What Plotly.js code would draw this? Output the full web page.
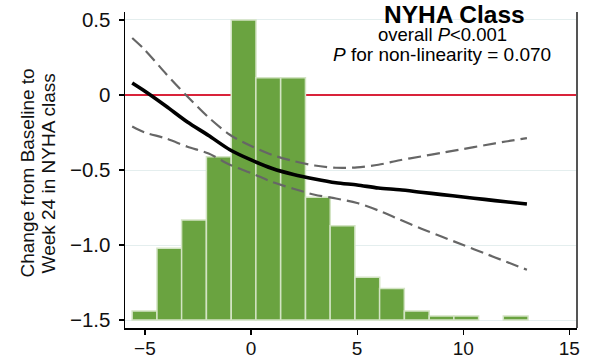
<!DOCTYPE html>
<html>
<head>
<meta charset="utf-8">
<script src="https://cdn.plot.ly/plotly-3.0.1.min.js"></script>
<style>html,body{margin:0;padding:0;background:#fff;}#chart{width:594px;height:360px;}</style>
</head>
<body>
<div id="chart"></div>
<script>
// Histogram of the exposure distribution (bin centres, bar heights above the -1.5 baseline)
const binCenters = [-5.02, -3.85, -2.69, -1.52, -0.35, 0.81, 1.98, 3.15, 4.31, 5.48, 6.64, 7.81, 8.98, 10.14, 11.31, 12.47];
const binHeights = [0.06, 0.478, 0.667, 1.089, 2.0, 1.615, 1.615, 0.818, 0.629, 0.285, 0.211, 0.06, 0.027, 0.027, null, 0.027];

// Restricted cubic spline estimate and 95% CI
const curveX   = [-5.6, -5, -4, -3, -2, -1, 0, 1, 2, 3, 4, 5, 6, 7, 8, 9, 10, 11, 12, 13];
const estimate = [0.08, 0.025, -0.075, -0.18, -0.27, -0.365, -0.433, -0.49, -0.53, -0.56, -0.585, -0.60, -0.62, -0.632, -0.648, -0.664, -0.68, -0.696, -0.712, -0.727];
const upperCI  = [0.38, 0.30, 0.14, -0.01, -0.15, -0.265, -0.34, -0.40, -0.44, -0.47, -0.485, -0.483, -0.465, -0.435, -0.41, -0.385, -0.36, -0.335, -0.31, -0.288];
const lowerCI  = [-0.21, -0.25, -0.29, -0.345, -0.39, -0.465, -0.52, -0.58, -0.625, -0.665, -0.69, -0.72, -0.77, -0.83, -0.89, -0.945, -1.0, -1.055, -1.11, -1.165];

const xTicks = [-5, 0, 5, 10, 15];
const xTickText = ['\u22125', '0', '5', '10', '15'];
const yTicks = [-1.5, -1.0, -0.5, 0, 0.5];
const yTickText = ['\u22121.5', '\u22121.0', '\u22120.5', '0', '0.5'];

const FONT = 'Liberation Sans, Arial, sans-serif';

const traces = [
  {
    type: 'bar', x: binCenters, y: binHeights, base: -1.5, width: 1.166,
    marker: {color: '#6aa340', line: {color: '#d3e4c4', width: 1.5}},
    hoverinfo: 'skip', showlegend: false
  },
  {
    type: 'scatter', mode: 'lines', x: curveX, y: upperCI,
    line: {color: '#666666', width: 2.2, dash: '13px,6px', shape: 'spline', smoothing: 0.8},
    showlegend: false
  },
  {
    type: 'scatter', mode: 'lines', x: curveX, y: lowerCI,
    line: {color: '#666666', width: 2.2, dash: '13px,6px', shape: 'spline', smoothing: 0.8},
    showlegend: false
  },
  {
    type: 'scatter', mode: 'lines', x: curveX, y: estimate,
    line: {color: '#000000', width: 3.6, shape: 'spline', smoothing: 0.8},
    showlegend: false
  }
];

const layout = {
  width: 594, height: 360,
  margin: {l: 125, r: 17, t: 12, b: 32, pad: 0},
  paper_bgcolor: '#ffffff', plot_bgcolor: '#ffffff',
  font: {family: FONT, color: '#111111'},
  bargap: 0,
  xaxis: {
    range: [-5.94, 15.36], tickvals: xTicks, ticktext: xTickText,
    showline: true, linecolor: '#000000', linewidth: 1.5,
    ticks: 'outside', ticklen: 5, tickcolor: '#000000', tickwidth: 1.2,
    showgrid: false, zeroline: false,
    tickfont: {size: 19, family: FONT, color: '#111111'},
    ticklabelstandoff: -2
  },
  yaxis: {
    range: [-1.553, 0.553], tickvals: yTicks, ticktext: yTickText,
    showline: true, linecolor: '#000000', linewidth: 1.5,
    ticks: 'outside', ticklen: 5, tickcolor: '#000000', tickwidth: 1.2,
    showgrid: true, gridcolor: '#e4eeee', gridwidth: 1,
    zeroline: true, zerolinecolor: '#d9233a', zerolinewidth: 1.5,
    tickfont: {size: 20.5, family: FONT, color: '#111111'},
    ticklabelstandoff: 4
  },
  shapes: [
    {type: 'line', xref: 'paper', yref: 'paper', x0: 1, x1: 1, y0: 0, y1: 1,
     line: {color: '#555555', width: 2}}
  ],
  annotations: [
    {xref: 'paper', yref: 'paper', x: -0.2168, y: 0.489, xanchor: 'center', yanchor: 'middle',
     text: 'Change from Baseline to', textangle: -90, showarrow: false,
     font: {size: 19, family: FONT, color: '#111111'}},
    {xref: 'paper', yref: 'paper', x: -0.1704, y: 0.489, xanchor: 'center', yanchor: 'middle',
     text: 'Week 24 in NYHA class', textangle: -90, showarrow: false,
     font: {size: 19, family: FONT, color: '#111111'}},
    {xref: 'paper', yref: 'paper', x: 0.728, y: 0.993, xanchor: 'center', yanchor: 'middle',
     text: '<b>NYHA Class</b>', showarrow: false,
     font: {size: 24.5, family: FONT, color: '#000000'}},
    {xref: 'paper', yref: 'paper', x: 0.702, y: 0.930, xanchor: 'center', yanchor: 'middle',
     text: 'overall <i>P</i>&lt;0.001', showarrow: false,
     font: {size: 18.5, family: FONT, color: '#000000'}},
    {xref: 'paper', yref: 'paper', x: 0.702, y: 0.8655, xanchor: 'center', yanchor: 'middle',
     text: '<i>P</i> for non-linearity = 0.070', showarrow: false,
     font: {size: 19, family: FONT, color: '#000000'}}
  ]
};

Plotly.newPlot('chart', traces, layout, {staticPlot: true, displayModeBar: false});
</script>
</body>
</html>
